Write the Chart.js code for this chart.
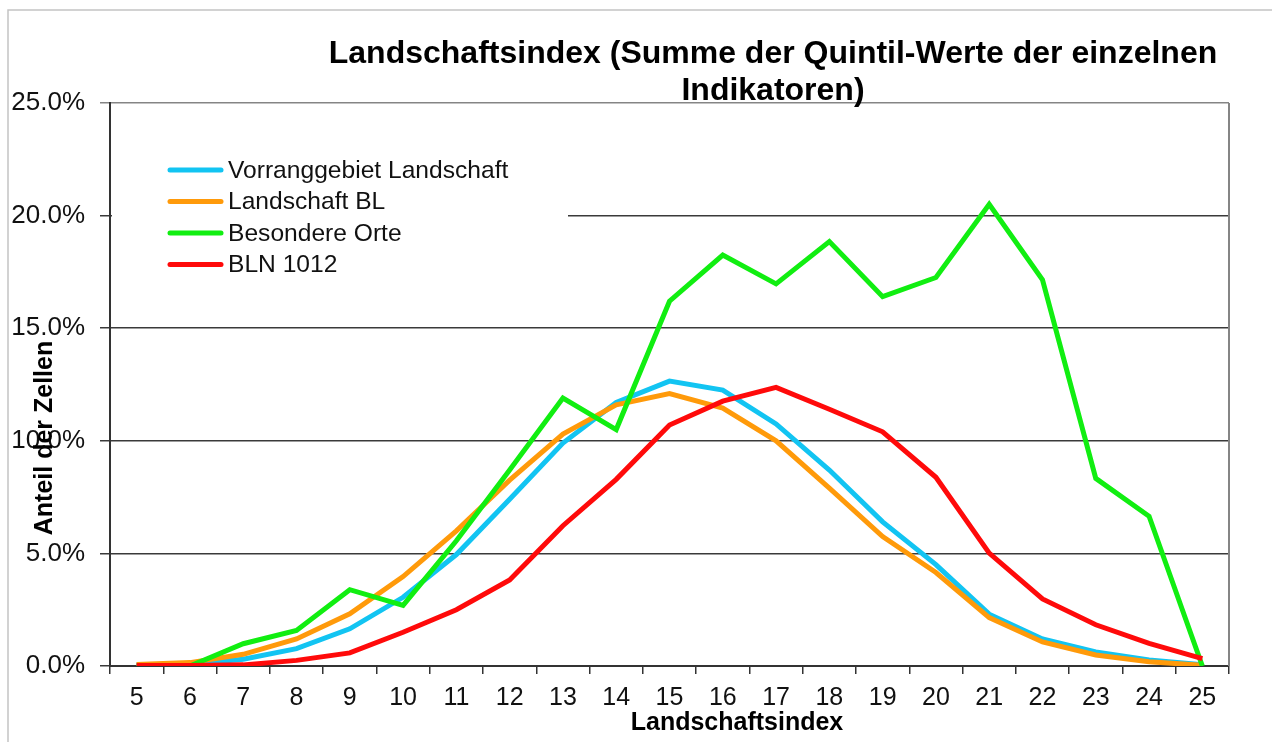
<!DOCTYPE html>
<html>
<head>
<meta charset="utf-8">
<script src="https://cdn.jsdelivr.net/npm/chart.js@4/dist/chart.umd.min.js"></script>
<style>
  html, body { margin: 0; padding: 0; background: #fff; }
  #wrap { width: 1272px; height: 742px; }
</style>
</head>
<body>
<div id="wrap"><canvas id="chart" width="1272" height="742"></canvas></div>
<script>
// Landschaftsindex 5..25, Anteil der Zellen in %
const categories = ['5','6','7','8','9','10','11','12','13','14','15','16','17','18','19','20','21','22','23','24','25'];

const vorranggebiet = [0.05, 0.08, 0.3, 0.77, 1.65, 3.05, 4.95, 7.4, 9.9, 11.7, 12.65, 12.25, 10.75, 8.7, 6.4, 4.5, 2.3, 1.2, 0.62, 0.27, 0.06];
const landschaftBL  = [0.07, 0.15, 0.52, 1.2, 2.32, 3.97, 6.0, 8.25, 10.3, 11.6, 12.1, 11.45, 10.0, 7.9, 5.75, 4.15, 2.15, 1.07, 0.49, 0.19, 0.03];
const besondereOrte = [0, 0, 0.99, 1.58, 3.39, 2.69, 5.56, 8.7, 11.9, 10.5, 16.2, 18.25, 16.97, 18.85, 16.4, 17.25, 20.5, 17.15, 8.33, 6.65, 0];
const bln1012       = [0.02, 0.02, 0.05, 0.25, 0.58, 1.5, 2.5, 3.82, 6.23, 8.29, 10.7, 11.76, 12.37, 11.4, 10.4, 8.38, 5.01, 2.98, 1.83, 1.0, 0.33];

const seriesNames = ['Vorranggebiet Landschaft', 'Landschaft BL', 'Besondere Orte', 'BLN 1012'];
const seriesColors = ['#12c4f2', '#ff9a0a', '#11ee11', '#ff0a0a'];

const titleLines = ['Landschaftsindex (Summe der Quintil-Werte der einzelnen', 'Indikatoren)'];
const xTitle = 'Landschaftsindex';
const yTitle = 'Anteil der Zellen';

const FONT = "'Liberation Sans', Arial, sans-serif";

// rahmen, titel, achsentitel
const decor = {
  id: 'decor',
  beforeDraw(chart) {
    const c = chart.ctx;
    c.save();
    c.strokeStyle = '#c4c4c4';
    c.lineWidth = 1.5;
    c.beginPath();
    c.moveTo(8, 742); c.lineTo(8, 10); c.lineTo(1272, 10);
    c.stroke();
    c.restore();
  },
  afterDraw(chart) {
    const c = chart.ctx, a = chart.chartArea;
    c.save();
    // rechter rand
    c.strokeStyle = '#858585';
    c.lineWidth = 2;
    c.beginPath();
    c.moveTo(a.right, a.top); c.lineTo(a.right, a.bottom);
    c.stroke();

    c.fillStyle = '#000';
    c.textAlign = 'center';
    c.textBaseline = 'alphabetic';
    c.font = 'bold 32px ' + FONT;
    c.fillText(titleLines[0], 773, 63);
    c.fillText(titleLines[1], 773, 100);

    c.font = 'bold 25px ' + FONT;
    c.textBaseline = 'middle';
    c.fillText(xTitle, 737, 723);

    c.translate(45, 438);
    c.rotate(-Math.PI / 2);
    c.fillText(yTitle, 0, 0);
    c.restore();
  }
};

// legende im diagramm, weisser kasten
const innerLegend = {
  id: 'innerLegend',
  beforeDatasetsDraw(chart) {
    const c = chart.ctx, a = chart.chartArea;
    c.save();
    c.fillStyle = '#fff';
    c.fillRect(a.left + 2, 140, 568 - a.left - 2, 150);
    c.font = '24.6px ' + FONT;
    c.textAlign = 'left';
    c.textBaseline = 'middle';
    c.lineCap = 'round';
    seriesNames.forEach((name, i) => {
      const y = 170 + i * 31.5;
      c.strokeStyle = seriesColors[i];
      c.lineWidth = 5;
      c.beginPath();
      c.moveTo(170, y); c.lineTo(221, y);
      c.stroke();
      c.fillStyle = '#111';
      c.fillText(name, 228, y + 1);
    });
    c.restore();
  }
};

const allSeries = [vorranggebiet, landschaftBL, besondereOrte, bln1012];

new Chart(document.getElementById('chart').getContext('2d'), {
  type: 'line',
  data: {
    labels: categories,
    datasets: allSeries.map((d, i) => ({
      label: seriesNames[i],
      data: d,
      borderColor: seriesColors[i],
      backgroundColor: seriesColors[i],
      borderWidth: 5,
      pointRadius: 0,
      tension: 0,
      fill: false,
      order: 4 - i
    }))
  },
  options: {
    responsive: false,
    animation: false,
    layout: { padding: { top: 103, right: 43, left: 0, bottom: 0 } },
    plugins: {
      legend: { display: false },
      title: { display: false },
      tooltip: { enabled: false }
    },
    scales: {
      x: {
        offset: true,
        afterFit: s => { s.height = 76; },
        grid: { display: true, offset: true, drawOnChartArea: false, drawTicks: true, tickLength: 8, color: '#333', lineWidth: 1.5 },
        border: { display: true, color: '#333', width: 2 },
        ticks: { color: '#111', font: { family: FONT, size: 25 }, padding: 9, maxRotation: 0, autoSkip: false }
      },
      y: {
        min: 0,
        max: 25,
        afterFit: s => { s.width = 110; },
        grid: {
          tickLength: 10,
          color: ctx => (ctx.tick && ctx.tick.value === 25) ? '#858585' : '#3a3a3a',
          lineWidth: 1.5
        },
        border: { display: true, color: '#333', width: 2 },
        ticks: {
          stepSize: 5,
          color: '#111',
          padding: 15,
          font: { family: FONT, size: 26 },
          callback: v => v.toFixed(1) + '%'
        }
      }
    }
  },
  plugins: [decor, innerLegend]
});
</script>
</body>
</html>
